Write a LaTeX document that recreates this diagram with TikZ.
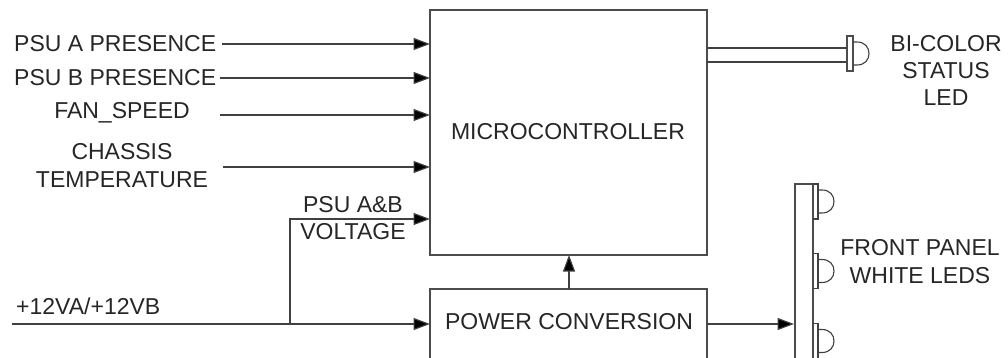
\documentclass[tikz,border=0pt]{standalone}
\usepackage{fontspec}
\setmainfont{Liberation Sans}
\usetikzlibrary{arrows.meta}
\tikzset{
  x=1pt,y=-1pt,
  wire/.style={draw=black!75,line width=1.1pt},
  arrowed/.style={wire,-{Triangle[length=16.5pt,width=12pt,fill=black]}},
  box/.style={draw=black!70,line width=1.1pt,fill=white},
  lbl/.style={font=\fontsize{23}{27.3}\selectfont,text=black!85,inner sep=0pt,align=center},
}
\newcommand{\dome}[2]{%
  \draw[wire] (#1,#2-11.5) -- (#1+4,#2-11.5) .. controls (#1+12,#2-11.5) and (#1+16,#2-6) .. (#1+16,#2)
     .. controls (#1+16,#2+6) and (#1+12,#2+11.5) .. (#1+4,#2+11.5) -- (#1,#2+11.5);}
\begin{document}
\begin{tikzpicture}
\useasboundingbox (0,0) rectangle (1008,358);
\begin{scope}
\clip (0,0) rectangle (1008,358);
\draw[box] (430,10) rectangle (707,255);
\draw[box] (430,289) rectangle (707,370);
\draw[box] (795,184) rectangle (813,370);
\foreach \cy in {201.5,271,341}{
  \draw[wire] (813,\cy-17.5) -- (818,\cy-17.5) -- (818,\cy+17.5) -- (813,\cy+17.5);
  \dome{818}{\cy}
}
% status LED
\draw[wire] (707,48) -- (847,48);
\draw[wire] (707,62) -- (847,62);
\draw[box] (847,36) rectangle (853,71);
\dome{853}{53.5}
\end{scope}
\node[lbl,anchor=west] (a) at (14,44) {PSU A PRESENCE};
\node[lbl,anchor=west] (b) at (14,78) {PSU B PRESENCE};
\node[lbl] (f) at (122,113) {FAN\_SPEED};
\node[lbl] (t) at (122,165.5) {CHASSIS\\TEMPERATURE};
\node[lbl] (mc) at (568,132) {MICROCONTROLLER};
\node[lbl] (pc) at (569,322) {POWER CONVERSION};
\node[lbl] (v1) at (353,205) {PSU A\&B};
\node[lbl] (v2) at (353,232) {VOLTAGE};
\node[lbl,anchor=west] (v) at (16,306) {+12VA/+12VB};
\node[lbl] (s) at (946,70.5) {BI-COLOR\\STATUS\\LED};
\node[lbl] (w) at (920,261.5) {FRONT PANEL\\WHITE LEDS};
\coordinate (mA) at (430,44);
\coordinate (mB) at (430,78);
\coordinate (mF) at (430,115);
\coordinate (mT) at (430,167);
\coordinate (mV) at (430,219);
\coordinate (pW) at (430,324);
\coordinate (mcS) at (569,255);
\coordinate (pcN) at (569,289);
\coordinate (barW) at (794,324);
\coordinate (pcE) at (707,324);
\coordinate (as) at (222,44);
\coordinate (bs) at (220,78);
\coordinate (fs) at (220,115);
\coordinate (ts) at (223,167);
\coordinate (in) at (12,324);
\coordinate (j) at (290,324);
\draw[arrowed] (as) -- (mA);
\draw[arrowed] (bs) -- (mB);
\draw[arrowed] (fs) -- (mF);
\draw[arrowed] (ts) -- (mT);
\draw[arrowed] (in) -- (pW);
\draw[arrowed] (j) |- (mV);
\draw[arrowed] (pcN) -- (mcS);
\draw[arrowed] (pcE) -- (barW);
\end{tikzpicture}
\end{document}
